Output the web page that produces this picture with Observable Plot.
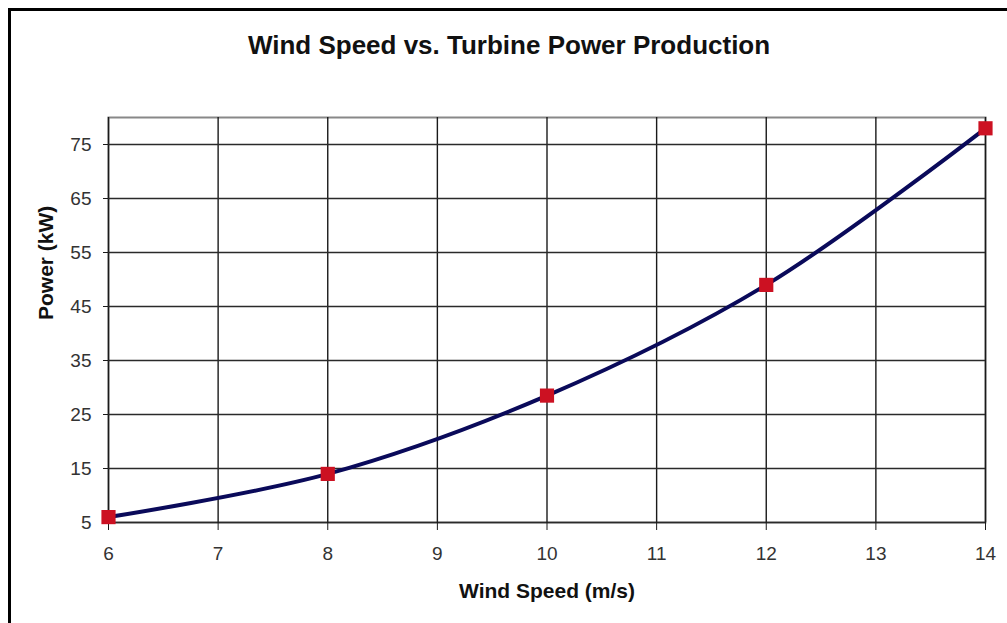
<!DOCTYPE html>
<html>
<head>
<meta charset="utf-8">
<script src="https://cdn.jsdelivr.net/npm/d3@7"></script>
<script src="https://cdn.jsdelivr.net/npm/@observablehq/plot@0.6"></script>
<style>
  html, body { margin: 0; padding: 0; background: #fff; }
  #wrap { position: relative; width: 1007px; height: 623px; overflow: hidden; font-family: "Liberation Sans", Arial, sans-serif; }
  #border { position: absolute; left: 8px; top: 8px; width: 1100px; height: 700px; border-left: 3px solid #000; border-top: 3px solid #000; pointer-events: none; }
  svg { display: block; }
</style>
</head>
<body>
<div id="wrap"><div id="border"></div></div>
<script>
const title = "Wind Speed vs. Turbine Power Production";
const xLabel = "Wind Speed (m/s)";
const yLabel = "Power (kW)";
const windSpeed = [6, 8, 10, 12, 14];
const powerKW = [6, 14, 28.5, 49, 78];
const xTicks = [6, 7, 8, 9, 10, 11, 12, 13, 14];
const yTicks = [5, 15, 25, 35, 45, 55, 65, 75];

const data = windSpeed.map((w, i) => ({w, p: powerKW[i]}));

const chart = Plot.plot({
  width: 1007,
  height: 623,
  marginLeft: 108,
  marginRight: 22,
  marginTop: 117,
  marginBottom: 101,
  style: {fontFamily: "'Liberation Sans', Arial, sans-serif", background: "transparent"},
  x: {domain: [6, 14]},
  y: {domain: [5, 80]},
  marks: [
    Plot.frame({stroke: "#888", strokeWidth: 2}),
    Plot.gridX(xTicks, {stroke: "#1a1a1a", strokeOpacity: 1, strokeWidth: 1.4}),
    Plot.gridY(yTicks, {stroke: "#2a2a2a", strokeOpacity: 1, strokeWidth: 1.3}),
    Plot.axisX(xTicks, {tickSize: 8, tickPadding: 16, fontSize: 19, fill: "#333", stroke: "#1a1a1a", label: null, tickFormat: d => String(d)}),
    Plot.axisY(yTicks, {tickSize: 5, tickPadding: 12, fontSize: 19, fill: "#333", stroke: "#1a1a1a", label: null, tickFormat: d => String(d)}),
    Plot.line(data, {x: "w", y: "p", curve: "catmull-rom", stroke: "#0a0a5a", strokeWidth: 4}),
    Plot.dot(data, {x: "w", y: "p", symbol: "square", r: 8, fill: "#cc1122", stroke: "none"}),
    Plot.text([title], {frameAnchor: "top", dy: -64, lineAnchor: "bottom", fontSize: 26, fontWeight: "bold", fill: "#111", dx: -38}),
    Plot.text([xLabel], {frameAnchor: "bottom", dy: 75, fontSize: 21, fontWeight: "bold", fill: "#111"}),
    Plot.text([yLabel], {frameAnchor: "left", dx: -62, rotate: -90, fontSize: 21, fontWeight: "bold", fill: "#111"})
  ]
});
document.getElementById("wrap").prepend(chart);
</script>
</body>
</html>
